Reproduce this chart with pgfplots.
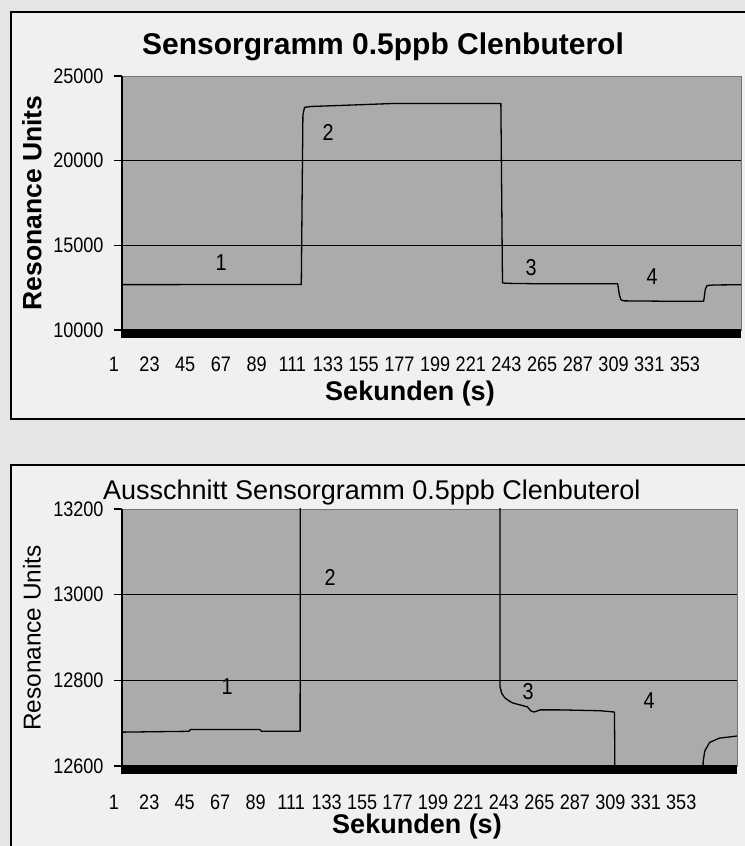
\documentclass[border=0pt]{standalone}
\usepackage{fontspec}
\setmainfont{Liberation Sans}
\newfontfamily\narrow{Liberation Sans}[FakeStretch=0.86]
\usepackage{pgfplots}
\pgfplotsset{compat=1.18}
\usepackage{pgfplotstable}

% Resonance units over time
\pgfplotstableread{
x y
0.5 12679
20 12680
42 12681
43 12685
86 12685
87 12681
111 12681
112 22700
113 23150
117 23200
135 23260
166 23370
234 23380
235 12785
236 12770
238 12759
241 12751
243 12747
247 12743
252 12738
254 12729
256 12726
260 12731
272 12731
297 12729
306 12726
307 12100
308 11780
310 11720
335 11700
359 11700
360 12400
361 12610
362 12635
365 12655
371 12665
382 12670
}\sensor

\pgfplotsset{
  sensor/.style={
    scale only axis,
    anchor=south west,
    xmin=0.5, xmax=382,
    xtick={1,23,45,67,89,111,133,155,177,199,221,243,265,287,309,331,353},
    xtick style={draw=none},
    xticklabel style={font=\narrow\fontsize{21bp}{24bp}\selectfont, anchor=base, xshift=-9bp},
    yticklabel style={font=\narrow\fontsize{21bp}{24bp}\selectfont, xshift=-7bp},
    scaled y ticks=false,
    /pgf/number format/assume math mode=true,
    /pgf/number format/1000 sep={},
    /pgf/number format/fixed,
    ytick pos=left,
    tick align=outside,
    major tick length=8bp,
    ytick style={black, line width=1.3bp},
    ymajorgrids,
    grid style={black, line width=1.4bp},
    extra tick style={grid=none},
    axis line style={draw=black!55, line width=0.8bp},
    axis background/.style={fill=black!33},
    after end axis/.code={
      \fill[black] (rel axis cs:0,0) rectangle ([yshift=-8bp]rel axis cs:1,0);
      \draw[black, line width=1.3bp] ([yshift=-8bp]rel axis cs:0,0) -- (rel axis cs:0,1);
    },
  },
  trace/.style={black, line width=1.3bp, no markers, line join=round},
}

\begin{document}
\begin{tikzpicture}
\useasboundingbox (0,0) rectangle (745bp,846bp);
\fill[black!10] (0,0) rectangle (745bp,846bp);
\filldraw[fill=black!6, draw=black, line width=1.3bp] (11bp,427bp) rectangle (760bp,834bp);
\filldraw[fill=black!6, draw=black, line width=1.3bp] (11bp,-10bp) rectangle (760bp,381bp);

% full sensorgram
\begin{axis}[sensor, at={(122bp,516bp)}, width=619bp, height=254bp,
  ymin=10000, ymax=25000, ytick={10000,15000,20000}, extra y ticks={25000},
  xticklabel style={yshift=-34bp}]
\addplot[trace] table[x=x, y=y] {\sensor};
\end{axis}

% zoomed section
\begin{axis}[sensor, at={(122bp,80bp)}, width=615bp, height=257bp,
  ymin=12600, ymax=13200, ytick={12600,12800,13000}, extra y ticks={13200},
  xticklabel style={yshift=-36bp}]
\addplot[trace] table[x=x, y=y] {\sensor};
\end{axis}

\begin{scope}[every node/.style={font=\narrow\fontsize{23bp}{25bp}\selectfont}]
\node at (221bp,583bp) {1};
\node at (328bp,714bp) {2};
\node at (531bp,578bp) {3};
\node at (652bp,569bp) {4};
\node at (227bp,159bp) {1};
\node at (330bp,269bp) {2};
\node at (528bp,154bp) {3};
\node at (649bp,145bp) {4};
\end{scope}

\node[anchor=base] at (383bp,791bp) {\fontsize{30bp}{32bp}\selectfont\bfseries Sensorgramm 0.5ppb Clenbuterol};
\node[rotate=90] at (32bp,643bp) {\fontsize{26.5bp}{28bp}\selectfont\bfseries Resonance Units};
\node[anchor=base] at (410bp,445bp) {\fontsize{27bp}{29bp}\selectfont\bfseries Sekunden (s)};

\node[anchor=base west, inner sep=0pt] at (103bp,346bp) {\fontsize{27bp}{29bp}\selectfont Ausschnitt Sensorgramm 0.5ppb Clenbuterol};
\node[rotate=90] at (32bp,208bp) {\fontsize{24.4bp}{26bp}\selectfont Resonance Units};
\node[anchor=base] at (417bp,13bp) {\fontsize{27bp}{29bp}\selectfont\bfseries Sekunden (s)};
\end{tikzpicture}
\end{document}
